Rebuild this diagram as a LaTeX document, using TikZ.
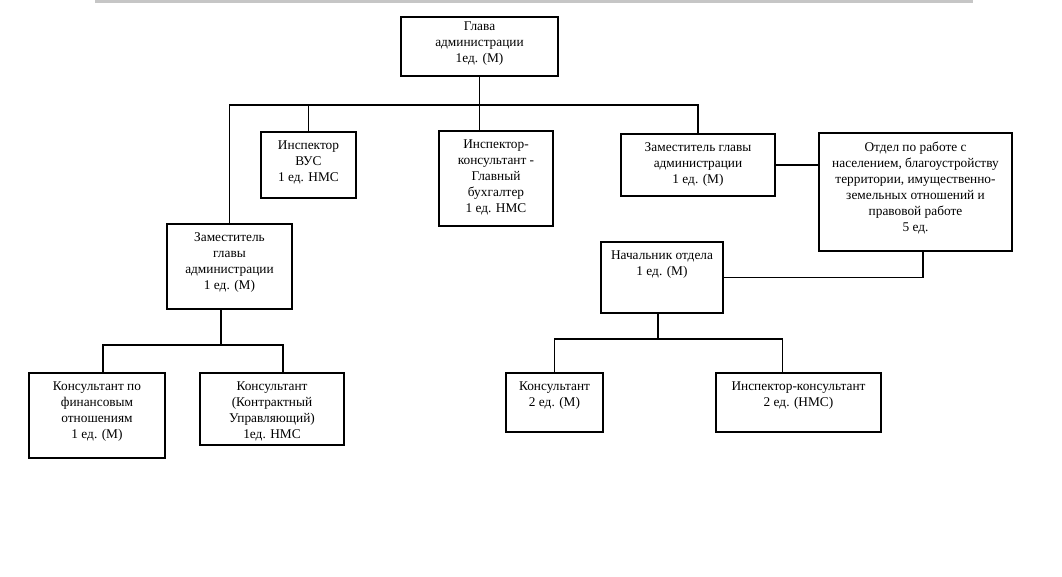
\documentclass[tikz,border=0pt]{standalone}
\usepackage{fontspec}
\setmainfont{Liberation Serif}
\usetikzlibrary{calc}

\tikzset{
  unit/.style={draw, line width=0.9pt, inner sep=0pt},
  lbl/.style={anchor=north, align=center, inner sep=0pt, yshift=-6.9pt,
    font=\fontsize{10}{12}\selectfont},
  link/.style={line width=0.8pt}
}

\begin{document}
\begin{tikzpicture}[x=0.75pt, y=-0.75pt]
  \useasboundingbox (0,0) rectangle (1062,577);
  \fill[gray!45] (95,0) rectangle (973,3);

  % top level
  \node[unit, minimum width=117.75pt, minimum height=44.25pt,
    label={[lbl, yshift=3pt]north:Глава\\администрации\\1ед. (М)}] (glava) at (479.5,46.5) {};

  % second row
  \node[unit, minimum width=71.25pt, minimum height=49.5pt,
    label={[lbl]north:Инспектор\\ВУС\\1 ед. НМС}] (vus) at (308.5,165) {};
  \node[unit, minimum width=85.5pt, minimum height=71.25pt,
    label={[lbl]north:Инспектор-\\консультант -\\Главный\\бухгалтер\\1 ед. НМС}] (buh) at (496,178.5) {};
  \node[unit, minimum width=115.5pt, minimum height=46.5pt,
    label={[lbl]north:Заместитель главы\\администрации\\1 ед. (М)}] (zamR) at (698,165) {};
  \node[unit, minimum width=144.75pt, minimum height=88.5pt,
    label={[lbl]north:Отдел по работе с\\населением, благоустройству\\территории, имущественно-\\земельных отношений и\\правовой работе\\5 ед.}] (otdel) at (915.5,192) {};
  \node[unit, minimum width=93.75pt, minimum height=63.75pt,
    label={[lbl]north:Заместитель\\главы\\администрации\\1 ед. (М)}] (zamL) at (229.5,266.5) {};
  \node[unit, minimum width=91.5pt, minimum height=53.25pt,
    label={[lbl]north:Начальник отдела\\1 ед. (М)}] (nach) at (662,277.5) {};

  % bottom row
  \node[unit, minimum width=102pt, minimum height=63.75pt,
    label={[lbl]north:Консультант по\\финансовым\\отношениям\\1 ед. (М)}] (fin) at (97,415.5) {};
  \node[unit, minimum width=108pt, minimum height=54pt,
    label={[lbl]north:Консультант\\(Контрактный\\Управляющий)\\1ед. НМС}] (contr) at (272,409) {};
  \node[unit, minimum width=72.75pt, minimum height=44.25pt,
    label={[lbl]north:Консультант\\2 ед. (М)}] (kons) at (554.5,402.5) {};
  \node[unit, minimum width=123.75pt, minimum height=44.25pt,
    label={[lbl]north:Инспектор-консультант\\2 ед. (НМС)}] (inspk) at (798.5,402.5) {};

  % connectors
  \coordinate (busT) at (480,105);
  \coordinate (busL) at (221,345);
  \coordinate (busR) at (658,339);

  \draw[link] (glava.south) -- (glava.south |- buh.north);
  \draw[link] (zamL.north) |- (busT) -| (zamR.north);
  \draw[link] (vus.north) -- (vus.north |- busT);
  \draw[link] (zamR.east) -- (zamR.east -| otdel.west);
  \draw[link] ([xshift=5.6pt]otdel.south) |- (nach.east);

  \draw[link] (zamL.south -| busL) -- (busL);
  \draw[link] ([xshift=4.5pt]fin.north) |- (busL) -| ([xshift=8.25pt]contr.north);

  \draw[link] (nach.south -| busR) -- (busR);
  \draw[link] (kons.north) |- (busR) -| ([xshift=-12pt]inspk.north);
\end{tikzpicture}
\end{document}
